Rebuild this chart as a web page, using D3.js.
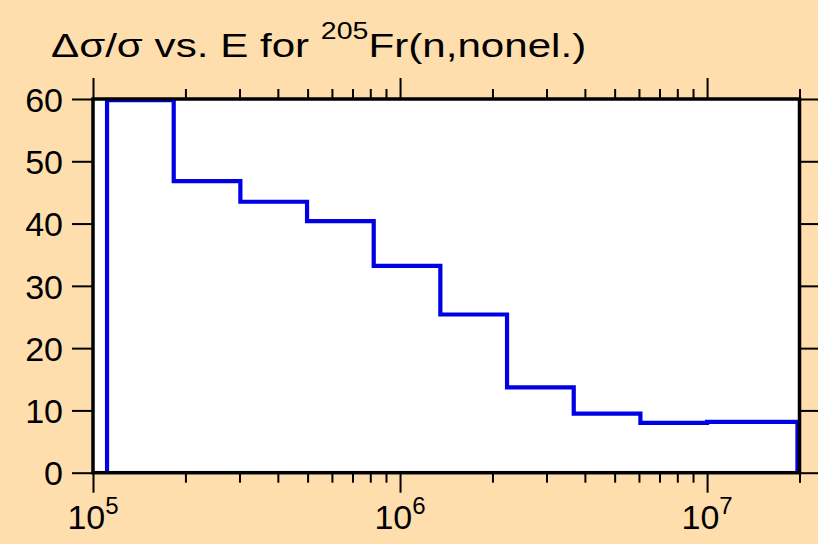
<!DOCTYPE html>
<html><head><meta charset="utf-8">
<script src="https://cdn.jsdelivr.net/npm/d3@7"></script>
<style>body{margin:0;background:#FFDEAD;} svg{display:block;font-family:"Liberation Sans",Arial,sans-serif}</style>
</head><body><svg id="c" width="818" height="544"></svg>
<script>
// Bin edges (eV) and relative uncertainty (%) per bin
const edges = [1.111e5, 1.832e5, 3.020e5, 4.979e5, 8.209e5, 1.353e6, 2.231e6, 3.679e6, 6.065e6, 1.0e7, 1.97e7];
const values = [59.8, 46.8, 43.5, 40.4, 33.2, 25.4, 13.7, 9.5, 8.0, 8.15];
const yTicks = [0, 10, 20, 30, 40, 50, 60];
const xMajor = [1e5, 1e6, 1e7];
const xLabelBase = ["10", "10", "10"];
const xLabelExp = ["5", "6", "7"];
const titleMain = "\u0394\u03c3/\u03c3 vs. E for ";
const titleSup = "205";
const titleRest = "Fr(n,nonel.)";

const svg = d3.select("#c");
const L = 93, R = 799.5, T = 99, B = 472.7;
const x = d3.scaleLog().domain([1e5, 2e7]).range([L, R]);
const y = d3.scaleLinear().domain([0, 60]).range([B, T]);

svg.append("rect").attr("x", L).attr("y", T).attr("width", R - L).attr("height", B - T).attr("fill", "#fff");

// minor ticks
const xMinor = [];
for (let d = 1e5; d <= 1e7; d *= 10) for (let m = 2; m <= 9; m++) if (d * m <= 2e7) xMinor.push(d * m);
xMinor.push(2e7);

function styleAxis(g) {
  g.select(".domain").remove();
  g.selectAll(".tick line").attr("stroke", "#000").attr("stroke-width", 2);
}
svg.append("g").attr("transform", `translate(0,${B})`).call(d3.axisBottom(x).tickValues(xMinor).tickSize(10).tickFormat("")).call(styleAxis);
svg.append("g").attr("transform", `translate(0,${B})`).call(d3.axisBottom(x).tickValues(xMajor).tickSize(20).tickFormat("")).call(styleAxis);
svg.append("g").attr("transform", `translate(0,${T})`).call(d3.axisTop(x).tickValues(xMinor).tickSize(10).tickFormat("")).call(styleAxis);
svg.append("g").attr("transform", `translate(0,${T})`).call(d3.axisTop(x).tickValues(xMajor).tickSize(21).tickFormat("")).call(styleAxis);
const gl = svg.append("g").attr("transform", `translate(${L},0)`).call(d3.axisLeft(y).tickValues(yTicks).tickSize(21).tickPadding(9).tickFormat(d3.format("d"))).call(styleAxis);
gl.selectAll(".tick text").attr("font-size", 34).attr("fill", "#000").attr("font-family", "Liberation Sans, Arial, sans-serif").attr("dy", "0.36em");
svg.append("g").attr("transform", `translate(${R},0)`).call(d3.axisRight(y).tickValues(yTicks).tickSize(20).tickFormat("")).call(styleAxis);

// x labels with superscripts
xMajor.forEach((v, i) => {
  const t = svg.append("text").attr("x", x(v)).attr("y", 529).attr("text-anchor", "middle").attr("font-size", 34).attr("fill", "#000");
  t.append("tspan").text(xLabelBase[i]);
  t.append("tspan").attr("font-size", 24).attr("dy", -15).text(xLabelExp[i]);
});

// step line
const pts = [[edges[0], 0]];
values.forEach((v, i) => { pts.push([edges[i], v]); pts.push([edges[i + 1], v]); });
pts.push([edges[edges.length - 1], 0]);
svg.append("path").datum(pts)
  .attr("d", d3.line().x(d => x(d[0])).y(d => y(d[1])))
  .attr("fill", "none").attr("stroke", "#0000e6").attr("stroke-width", 4.2).attr("stroke-linejoin", "miter").attr("stroke-linecap", "butt");

// frame
svg.append("rect").attr("x", L).attr("y", T).attr("width", R - L).attr("height", B - T).attr("fill", "none").attr("stroke", "#000").attr("stroke-width", 3.5);

// title
const tt = svg.append("text").attr("transform", "translate(51,57) scale(1.24,1)").attr("font-size", 34).attr("fill", "#000");
tt.append("tspan").text(titleMain);
tt.append("tspan").attr("font-size", 23).attr("dy", -18).text(titleSup);
tt.append("tspan").attr("dy", 18).text(titleRest);
</script></body></html>
